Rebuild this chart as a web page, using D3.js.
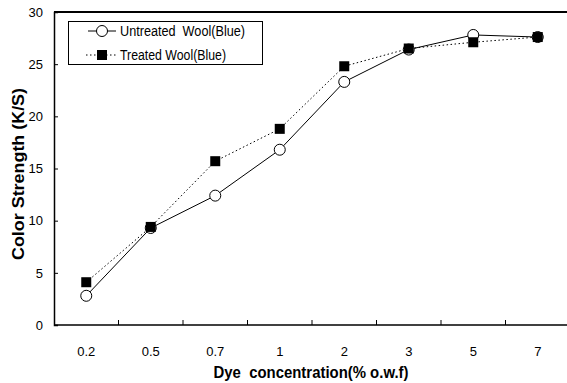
<!DOCTYPE html>
<html lang="en">
<head>
<meta charset="UTF-8">
<title>Color Strength vs Dye Concentration</title>
<script src="https://d3js.org/d3.v7.min.js"></script>
<style>
    body { margin: 0; background: #fff; }
    svg { display: block; font-family: "Liberation Sans", Arial, sans-serif; }
    svg text { white-space: pre; }
</style>
</head>
<body>
<div id="chart"></div>
<script>
    const concentrations = ["0.2", "0.5", "0.7", "1", "2", "3", "5", "7"];
    const untreated = [2.8, 9.3, 12.4, 16.8, 23.3, 26.4, 27.8, 27.6];
    const treated = [4.1, 9.4, 15.7, 18.8, 24.8, 26.5, 27.1, 27.6];
    const yTicks = [0, 5, 10, 15, 20, 25, 30];
    const seriesNames = ["Untreated  Wool(Blue)", "Treated Wool(Blue)"];

    const width = 567, height = 383;
    const margin = { top: 12, right: -3, bottom: 58, left: 54 };

    const svg = d3.select("#chart").append("svg")
        .attr("width", width)
        .attr("height", height);

    const x = d3.scaleBand()
        .domain(concentrations)
        .range([margin.left, width - margin.right]);

    const y = d3.scaleLinear()
        .domain([0, 30])
        .range([height - margin.bottom, margin.top]);

    // x axis: ticks sit between categories, pointing inward
    const xAxis = svg.append("g")
        .attr("transform", `translate(0,${y(0)})`);
    xAxis.append("line")
        .attr("x1", margin.left).attr("x2", width + 5)
        .attr("stroke", "#000").attr("stroke-width", 1.5);
    xAxis.selectAll(".tick")
        .data(concentrations.slice(1))
        .enter().append("line")
        .attr("x1", d => x(d)).attr("x2", d => x(d))
        .attr("y1", 0).attr("y2", -5)
        .attr("stroke", "#000");
    xAxis.selectAll(".label")
        .data(concentrations)
        .enter().append("text")
        .attr("x", d => x(d) + x.bandwidth() / 2)
        .attr("y", 31)
        .attr("text-anchor", "middle")
        .attr("font-size", 13)
        .text(d => d);

    // y axis
    const yAxis = svg.append("g")
        .attr("transform", `translate(${margin.left},0)`)
        .call(d3.axisRight(y).tickValues(yTicks).tickSize(4));
    yAxis.select(".domain").attr("stroke-width", 1.5);
    yAxis.selectAll("text")
        .attr("text-anchor", "end")
        .attr("x", -11)
        .attr("font-family", "Liberation Sans, Arial, sans-serif")
        .attr("font-size", 13);

    // top frame line
    svg.append("line")
        .attr("x1", margin.left).attr("x2", width + 5)
        .attr("y1", y(30)).attr("y2", y(30))
        .attr("stroke", "#000").attr("stroke-width", 2);

    // axis titles
    svg.append("text")
        .attr("x", 311).attr("y", 378)
        .attr("text-anchor", "middle")
        .attr("font-size", 16).attr("font-weight", "bold")
        .attr("textLength", 195).attr("lengthAdjust", "spacingAndGlyphs")
        .text("Dye  concentration(% o.w.f)");

    svg.append("text")
        .attr("transform", "translate(24,174) rotate(-90)")
        .attr("text-anchor", "middle")
        .attr("font-size", 16).attr("font-weight", "bold")
        .attr("textLength", 172).attr("lengthAdjust", "spacingAndGlyphs")
        .text("Color Strength (K/S)");

    const cx = d => x(d) + x.bandwidth() / 2;
    const line = d3.line()
        .x((d, i) => cx(concentrations[i]))
        .y(d => y(d));

    // treated: dotted line with filled squares
    svg.append("path")
        .datum(treated)
        .attr("d", line)
        .attr("fill", "none")
        .attr("stroke", "#000")
        .attr("stroke-width", 1)
        .attr("stroke-dasharray", "1.5,2.5");

    // untreated: solid line with open circles
    svg.append("path")
        .datum(untreated)
        .attr("d", line)
        .attr("fill", "none")
        .attr("stroke", "#000")
        .attr("stroke-width", 1);

    svg.selectAll(".circ")
        .data(untreated)
        .enter().append("circle")
        .attr("cx", (d, i) => cx(concentrations[i]))
        .attr("cy", d => y(d))
        .attr("r", 5.5)
        .attr("fill", "#fff")
        .attr("stroke", "#000");

    svg.selectAll(".sq")
        .data(treated)
        .enter().append("rect")
        .attr("x", (d, i) => cx(concentrations[i]) - 5)
        .attr("y", d => y(d) - 5)
        .attr("width", 10).attr("height", 10)
        .attr("fill", "#000");

    // legend
    const legend = svg.append("g");
    legend.append("rect")
        .attr("x", 68.5).attr("y", 21.5)
        .attr("width", 194).attr("height", 43)
        .attr("fill", "#fff").attr("stroke", "#000");

    const rows = [31, 55];
    legend.append("line")
        .attr("x1", 88).attr("x2", 116)
        .attr("y1", rows[0]).attr("y2", rows[0])
        .attr("stroke", "#000");
    legend.append("circle")
        .attr("cx", 102).attr("cy", rows[0]).attr("r", 5.5)
        .attr("fill", "#fff").attr("stroke", "#000");
    legend.append("line")
        .attr("x1", 86).attr("x2", 118)
        .attr("y1", rows[1]).attr("y2", rows[1])
        .attr("stroke", "#000").attr("stroke-dasharray", "1.5,2.5");
    legend.append("rect")
        .attr("x", 97).attr("y", rows[1] - 5)
        .attr("width", 10).attr("height", 10)
        .attr("fill", "#000");

    legend.selectAll(".ltext")
        .data(seriesNames)
        .enter().append("text")
        .attr("x", 120)
        .attr("y", (d, i) => rows[i] + 5)
        .attr("font-size", 14)
        .attr("textLength", (d, i) => i === 0 ? 125 : 106)
        .attr("lengthAdjust", "spacingAndGlyphs")
        .text(d => d);
</script>
</body>
</html>
